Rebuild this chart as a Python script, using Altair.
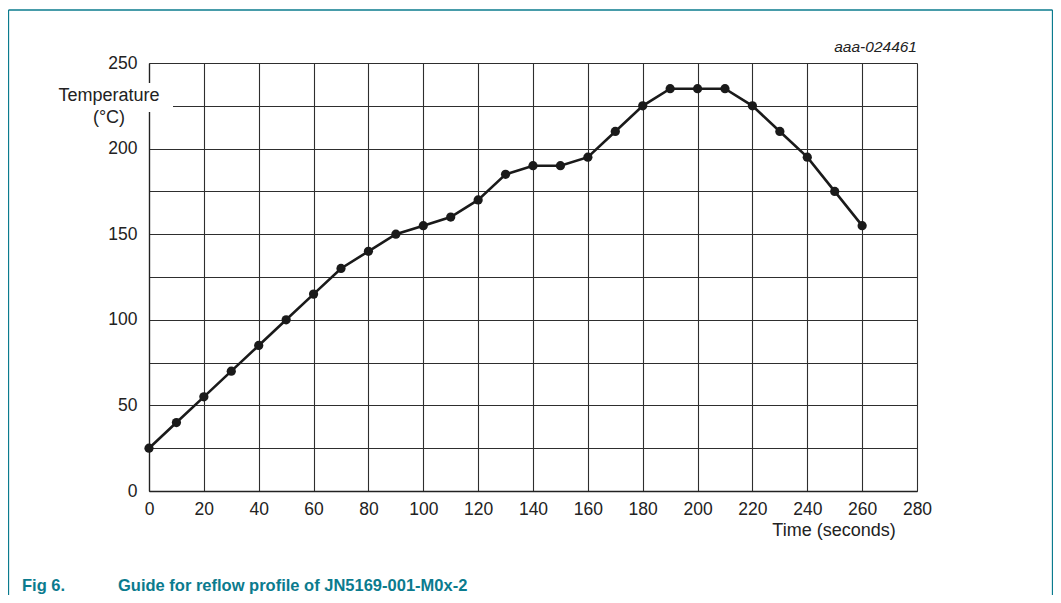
import altair as alt
import pandas as pd

time_s = [0, 10, 20, 30, 40, 50, 60, 70, 80, 90, 100, 110, 120, 130, 140,
          150, 160, 170, 180, 190, 200, 210, 220, 230, 240, 250, 260]
temp_c = [25, 40, 55, 70, 85, 100, 115, 130, 140, 150, 155, 160, 170, 185, 190,
          190, 195, 210, 225, 235, 235, 235, 225, 210, 195, 175, 155]
x_ticks = list(range(0, 281, 10))
y_ticks = list(range(0, 251, 25))

df = pd.DataFrame({"t": time_s, "T": temp_c})

FONT = "Liberation Sans"
TEAL = "#0b7b8e"
W, H = 768, 428

xs = alt.Scale(domain=[0, 280], nice=False, zero=True)
ys = alt.Scale(domain=[0, 250], nice=False, zero=True)

x_axis = alt.Axis(values=x_ticks, title=None, grid=True, gridColor="#2e2e2e", gridWidth=1.1,
                  ticks=False, domainColor="#222", domainWidth=1.3, labelFlush=False,
                  labelExpr="datum.value % 20 == 0 ? datum.label : ''",
                  labelFont=FONT, labelFontSize=17.5, labelColor="#222", labelPadding=9,
                  labelOverlap=False)
y_axis = alt.Axis(values=y_ticks, title=None, grid=True, gridColor="#2e2e2e", gridWidth=1.1,
                  ticks=False, domainColor="#222", domainWidth=1.3, labelFlush=False,
                  labelExpr="datum.value % 50 == 0 ? datum.label : ''",
                  labelFont=FONT, labelFontSize=17.5, labelColor="#222", labelPadding=12,
                  labelOverlap=False)

base = alt.Chart(df)

line = base.mark_line(color="#1a1a1a", strokeWidth=2.6).encode(
    x=alt.X("t:Q", scale=xs, axis=x_axis),
    y=alt.Y("T:Q", scale=ys, axis=y_axis),
)
pts = base.mark_circle(color="#1a1a1a", size=85, opacity=1).encode(
    x=alt.X("t:Q", scale=xs),
    y=alt.Y("T:Q", scale=ys),
)

one = pd.DataFrame({"a": [0]})
ann = alt.Chart(one)

white_box = ann.mark_rect(color="white").encode(
    x=alt.value(-99), x2=alt.value(24), y=alt.value(20), y2=alt.value(49))

temp_label = ann.mark_text(text=["Temperature", "(°C)"], font=FONT, fontSize=18, color="#222",
                           align="center", baseline="middle", lineHeight=22).encode(
    x=alt.value(-40), y=alt.value(33))

x_title = ann.mark_text(text="Time (seconds)", font=FONT, fontSize=18, color="#222",
                        align="center", baseline="middle").encode(
    x=alt.value(685), y=alt.value(468))

code = ann.mark_text(text="aaa-024461", font=FONT, fontSize=15.5, fontStyle="italic",
                     color="#222", align="right", baseline="middle").encode(
    x=alt.value(768), y=alt.value(-16))

cap1 = ann.mark_text(text="Fig 6.", font=FONT, fontSize=16.5, fontWeight="bold", color=TEAL,
                     align="left", baseline="alphabetic").encode(
    x=alt.value(-127), y=alt.value(528))
cap2 = ann.mark_text(text="Guide for reflow profile of JN5169-001-M0x-2", font=FONT,
                     fontSize=16.5, fontWeight="bold", color=TEAL,
                     align="left", baseline="alphabetic").encode(
    x=alt.value(-31), y=alt.value(528))

border_top = ann.mark_rule(color=TEAL, strokeWidth=1.3).encode(
    x=alt.value(-140.5), x2=alt.value(903.5), y=alt.value(-53))
border_left = ann.mark_rule(color=TEAL, strokeWidth=1.3).encode(
    x=alt.value(-140.5), y=alt.value(-53), y2=alt.value(700))
border_right = ann.mark_rule(color=TEAL, strokeWidth=1.3).encode(
    x=alt.value(903.5), y=alt.value(-53), y2=alt.value(700))

chart = alt.layer(
    line, pts, white_box, temp_label, x_title, code, cap1, cap2,
    border_top, border_left, border_right
).properties(
    width=W, height=H,
    autosize=alt.AutoSizeParams(type="none"),
    padding={"left": 141, "top": 55, "right": 136, "bottom": 104},
).configure_view(stroke=None).configure(background="white")

chart.save("out.html", embed_options={"renderer": "svg", "actions": False})
